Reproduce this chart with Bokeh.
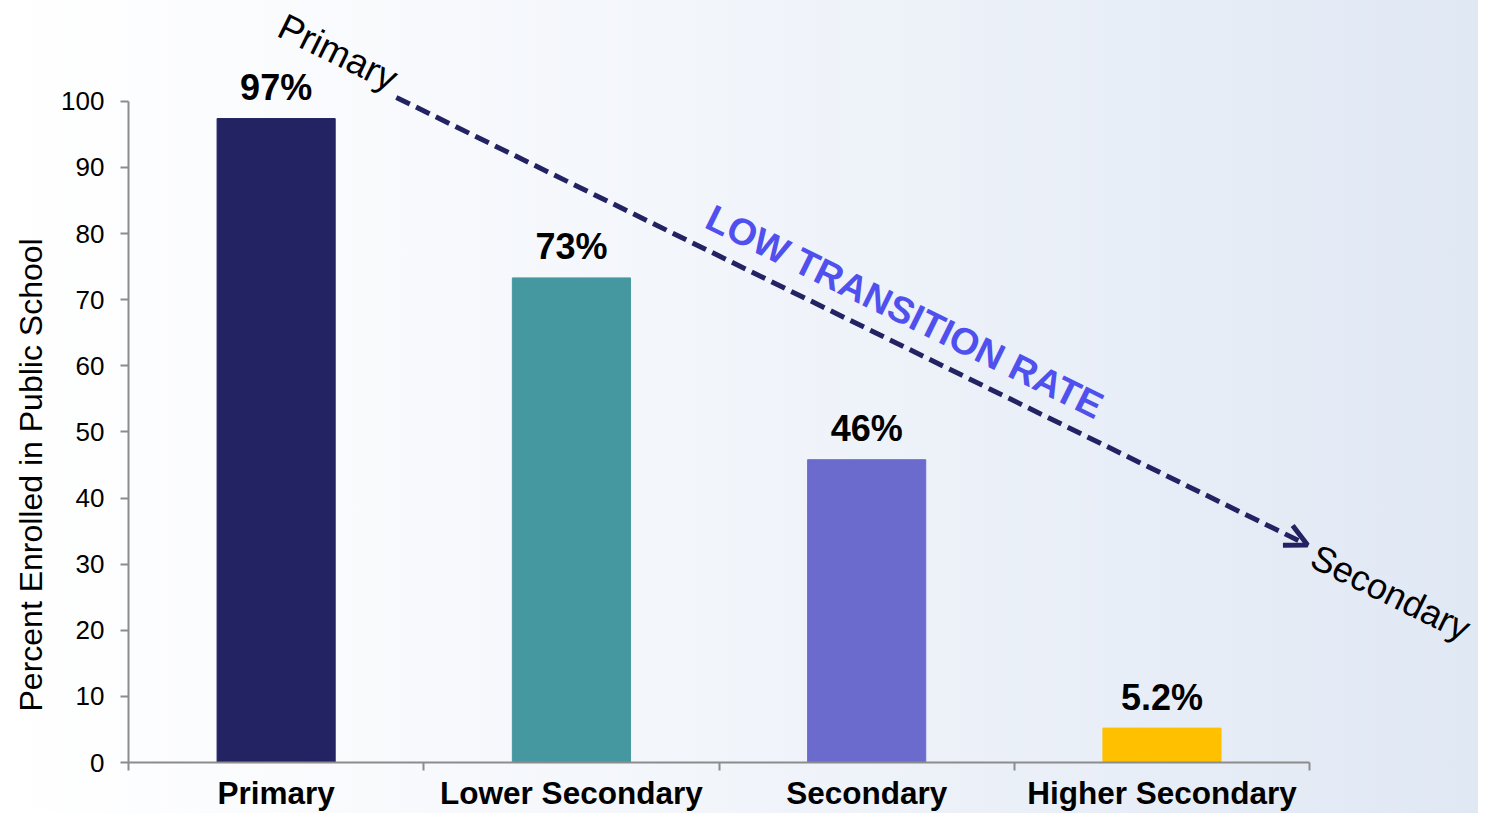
import math
from bokeh.plotting import figure
from bokeh.models import Range1d, FixedTicker, Arrow, OpenHead, Title, ColumnDataSource
from bokeh.core.properties import value
from bokeh.embed import file_html
from bokeh.resources import INLINE

# ---- data ----
categories = ["Primary", "Lower Secondary", "Secondary", "Higher Secondary"]
enrolled = [97.4, 73.3, 45.8, 5.2]
value_labels = ["97%", "73%", "46%", "5.2%"]
bar_colors = ["#232263", "#4698a0", "#6b6bcd", "#ffc000"]
y_ticks = [0, 10, 20, 30, 40, 50, 60, 70, 80, 90, 100]
y_title = "Percent Enrolled in Public School"

# annotation texts
note_texts = ["Primary", "Secondary"]
note_x = [0.709, 4.275]
note_y = [107.4, 25.7]
trend_text = ["LOW TRANSITION RATE"]
trend_x = [2.629]
trend_y = [68.2]
arrow_from = (0.907, 100.6)
arrow_to = (3.993, 32.9)

FONT = "Liberation Sans"
positions = [i + 0.5 for i in range(len(categories))]

p = figure(width=1478, height=813, output_backend="svg", toolbar_location=None,
           x_range=Range1d(0, 4.572), y_range=Range1d(0, 115.26),
           min_border_left=127, min_border_right=0, min_border_top=0, min_border_bottom=50)
p.outline_line_color = None
p.grid.visible = False
p.background_fill_alpha = 0
p.border_fill_alpha = 0
p.styles = {"background": "linear-gradient(90deg, #ffffff 0%, #f3f6fb 45%, #e0e8f4 100%)"}

src = ColumnDataSource(dict(x=positions, top=enrolled, lab=value_labels, color=bar_colors))
p.vbar(x="x", top="top", width=0.4, color="color", source=src)
p.text(x="x", y="top", text="lab", source=src, text_align="center", text_baseline="alphabetic",
       y_offset=-31, text_font=value(FONT), text_font_style="bold", text_font_size="36px",
       text_color="#000000")

# axes
xa = p.xaxis[0]
xa.ticker = FixedTicker(ticks=positions, minor_ticks=[0, 1, 2, 3, 4])
xa.major_label_overrides = {pos: c for pos, c in zip(positions, categories)}
xa.bounds = (0, len(categories))
xa.major_tick_out = 0
xa.major_tick_in = 0
xa.minor_tick_out = 8
xa.minor_tick_in = 0
xa.minor_tick_line_color = "#8c8c8c"
xa.minor_tick_line_width = 2
xa.axis_line_color = "#8c8c8c"
xa.axis_line_width = 2
xa.major_label_text_font = FONT
xa.major_label_text_font_style = "bold"
xa.major_label_text_font_size = "31.5px"
xa.major_label_text_color = "#000000"
xa.major_label_standoff = 4

ya = p.yaxis[0]
ya.ticker = FixedTicker(ticks=y_ticks, minor_ticks=[])
ya.bounds = (0, 100)
ya.major_tick_out = 8
ya.major_tick_in = 0
ya.major_tick_line_color = "#8c8c8c"
ya.major_tick_line_width = 2
ya.axis_line_color = "#8c8c8c"
ya.axis_line_width = 2
ya.major_label_text_font = FONT
ya.major_label_text_font_size = "26px"
ya.major_label_text_color = "#000000"
ya.major_label_standoff = 16

p.add_layout(Title(text=y_title, align="left", offset=51, standoff=20, text_font=FONT,
                   text_font_size="32px", text_font_style="normal", text_color="#000000"), "left")

# trend arrow
p.add_layout(Arrow(x_start=arrow_from[0], y_start=arrow_from[1], x_end=arrow_to[0], y_end=arrow_to[1],
                   line_color="#232263", line_width=5, line_dash="15 7",
                   end=OpenHead(size=22, line_color="#232263", line_width=5)))

ang = -0.457
p.text(x=note_x, y=note_y, text=note_texts, angle=ang, text_align="center", text_baseline="middle",
       text_font=value(FONT), text_font_size=["37px", "36px"], text_color="#000000")
p.text(x=trend_x, y=trend_y, text=trend_text, angle=ang, text_align="center", text_baseline="middle",
       text_font=value(FONT), text_font_style="bold", text_font_size="37.5px", text_color="#5050ee")

open("out.html", "w").write(file_html(p, INLINE))
